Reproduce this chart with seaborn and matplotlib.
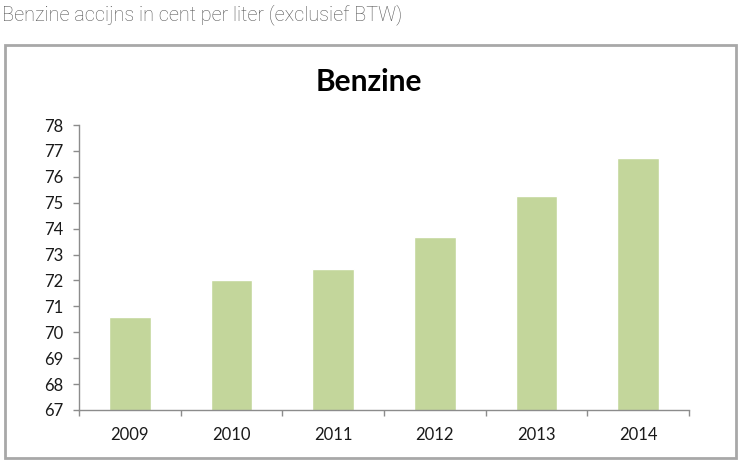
import numpy as np
import pandas as pd
import matplotlib
matplotlib.use("Agg")
import matplotlib.pyplot as plt
import seaborn as sns
from matplotlib.patches import Rectangle
from matplotlib.ticker import FixedLocator

# data
years = ["2009", "2010", "2011", "2012", "2013", "2014"]
accijns = [70.6, 72.0, 72.45, 73.67, 75.27, 76.74]

BAR_COLOR = "#c3d69b"
AXIS_COLOR = "#8c8c8c"

sns.set_theme(style="white")
plt.rcParams["font.family"] = ["Lato", "DejaVu Sans"]

df = pd.DataFrame({"jaar": years, "cent": accijns})

fig = plt.figure(figsize=(7.41, 4.63), dpi=100, facecolor="white")

# outer frame around the chart
fig.patches.append(Rectangle((5 / 741, 1 - 458 / 463), 731 / 741, 413 / 463,
                             transform=fig.transFigure, fill=False,
                             edgecolor="#a8a8a8", linewidth=2.0))

fig.text(2 / 741, 1 - 15 / 463, "Benzine accijns in cent per liter (exclusief BTW)",
         ha="left", va="center", fontsize=14.3, color="#555555",
         family=["Roboto", "DejaVu Sans"], fontweight="light")

ax = fig.add_axes([79 / 741, 1 - 410 / 463, 610 / 741, 285 / 463])
sns.barplot(data=df, x="jaar", y="cent", color=BAR_COLOR, width=0.41,
            saturation=1, ax=ax)

ax.set_ylim(67, 78)
ax.set_xlim(-0.5, len(years) - 0.5)
ax.set_yticks(np.arange(67, 79, 1))
ax.set_xlabel("")
ax.set_ylabel("")

for side in ("top", "right"):
    ax.spines[side].set_visible(False)
for side in ("left", "bottom"):
    ax.spines[side].set_color(AXIS_COLOR)
    ax.spines[side].set_linewidth(1.0)

ax.tick_params(axis="y", which="major", direction="out", length=4.3, width=1.0,
               color=AXIS_COLOR, labelsize=12, pad=7, left=True)
ax.tick_params(axis="x", which="major", length=0, labelsize=12, pad=12)
ax.xaxis.set_minor_locator(FixedLocator(np.arange(-0.5, len(years), 1.0)))
ax.tick_params(axis="x", which="minor", direction="out", length=4.3, width=1.0,
               color=AXIS_COLOR, bottom=True)
for lab in ax.get_xticklabels() + ax.get_yticklabels():
    lab.set_color("#1a1a1a")

fig.text(369 / 741, 1 - 82 / 463, "Benzine", ha="center", va="center",
         fontsize=21.5, fontweight="bold", color="black")

fig.savefig("out.png", dpi=100, facecolor="white")
plt.close(fig)
